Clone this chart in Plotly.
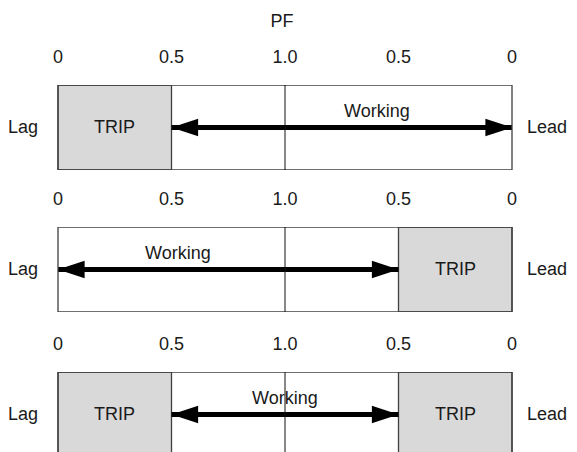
import plotly.graph_objects as go
from plotly.subplots import make_subplots

# PF scale along each bar (lag side on the left, lead side on the right)
pf_pos = [0, 1, 2, 3, 4]
pf_labels = ["0", "0.5", "1.0", "0.5", "0"]
unity_pf = 2

# one row per relay setting
trip_zones = [[(0, 1)], [(3, 4)], [(0, 1), (3, 4)]]
working_ranges = [(1, 4), (0, 3), (1, 3)]
working_label_x = [2.81, 1.06, 2.0]

font_family = "Liberation Sans, Arial, sans-serif"
text_color = "#1a1a1a"
edge_color = "#404040"
trip_fill = "#d9d9d9"
fs = 18

# page body keeps an 8px margin, so the figure is 8px smaller than the window
W, H = 569, 444

fig = make_subplots(rows=3, cols=1)

domains = [[0.6351, 0.8266], [0.3153, 0.5068], [0.0, 0.1802]]
y_ranges = [[0, 1], [0, 1], [0.0588, 1]]

for i in range(3):
    r = i + 1
    xr = "x" if i == 0 else f"x{r}"
    yr = "y" if i == 0 else f"y{r}"

    # trip zones
    for (a, b) in trip_zones[i]:
        fig.add_shape(type="rect", xref=xr, yref=yr, x0=a, x1=b, y0=0, y1=1,
                      fillcolor=trip_fill, line=dict(color=edge_color, width=1.3),
                      layer="below")
        fig.add_annotation(x=(a + b) / 2, y=0.5, xref=xr, yref=yr, text="TRIP",
                           showarrow=False, font=dict(size=fs, color=text_color))

    # outer box and unity PF line
    fig.add_shape(type="rect", xref=xr, yref=yr, x0=pf_pos[0], x1=pf_pos[-1], y0=0, y1=1,
                  line=dict(color=edge_color, width=1.3))
    fig.add_shape(type="line", xref=xr, yref=yr, x0=unity_pf, x1=unity_pf, y0=0, y1=1,
                  line=dict(color="#111111", width=1))

    # working range arrow
    w0, w1 = working_ranges[i]
    fig.add_trace(go.Scatter(
        x=[w0, w1], y=[0.5, 0.5], mode="lines+markers",
        line=dict(color="black", width=5),
        marker=dict(symbol="arrow", size=28, angle=[-90, 90], angleref="up",
                    color="black", line=dict(width=0)),
        hoverinfo="skip", showlegend=False), row=r, col=1)
    fig.add_annotation(x=working_label_x[i], y=0.69, xref=xr, yref=yr, text="Working",
                       showarrow=False, font=dict(size=fs, color=text_color))

    fig.add_annotation(x=-0.31, y=0.5, xref=xr, yref=yr, text="Lag",
                       showarrow=False, font=dict(size=fs, color=text_color))
    fig.add_annotation(x=4.31, y=0.5, xref=xr, yref=yr, text="Lead",
                       showarrow=False, font=dict(size=fs, color=text_color))

    fig.update_xaxes(row=r, col=1, range=[-0.4405, 4.5727], domain=[0, 1],
                     side="top", tickvals=pf_pos, ticktext=pf_labels, ticks="",
                     ticklabelstandoff=17, showgrid=False, zeroline=False,
                     showline=False, tickfont=dict(size=fs, color=text_color))
    fig.update_yaxes(row=r, col=1, range=y_ranges[i], domain=domains[i],
                     visible=False, showgrid=False, zeroline=False)

fig.update_layout(
    width=W, height=H,
    margin=dict(l=0, r=0, t=0, b=0),
    paper_bgcolor="white", plot_bgcolor="white",
    font=dict(family=font_family, size=fs, color=text_color),
    title=dict(text="PF", x=0.4815, xanchor="center", y=0.9707, yanchor="middle",
               font=dict(size=fs, color=text_color)),
    showlegend=False,
)

fig.write_html("out.html")
